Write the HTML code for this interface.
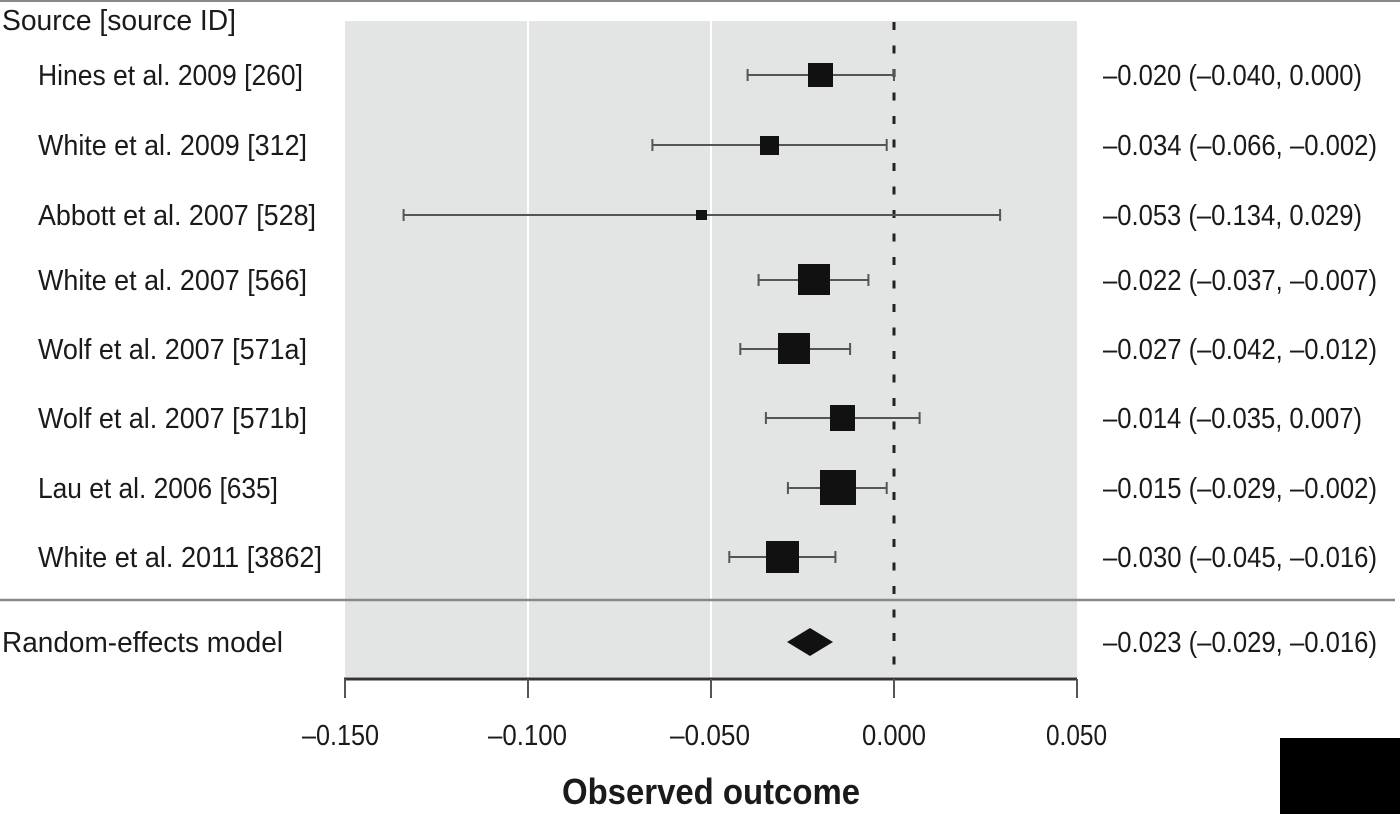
<!DOCTYPE html>
<html><head><meta charset="utf-8"><style>
html,body{margin:0;padding:0;background:#fff;width:1400px;height:814px;overflow:hidden}
text{font-family:"Liberation Sans Narrow","Liberation Sans",sans-serif;fill:#1a1a1a}
</style></head><body>
<svg width="1400" height="814" viewBox="0 0 1400 814" xmlns="http://www.w3.org/2000/svg">
<rect x="345" y="21" width="732" height="656" fill="#e3e4e4"/>
<line x1="528" y1="21" x2="528" y2="677" stroke="#fff" stroke-width="2"/>
<line x1="711" y1="21" x2="711" y2="677" stroke="#fff" stroke-width="2"/>
<line x1="0" y1="1" x2="1400" y2="1" stroke="#888" stroke-width="2"/>
<line x1="0" y1="600" x2="1395" y2="600" stroke="#888" stroke-width="2.5"/>
<line x1="894" y1="22" x2="894" y2="677" stroke="#222" stroke-width="3" stroke-dasharray="8 15.5"/>
<g stroke="#555" stroke-width="2" fill="none">
<path d="M747.6 75H894M747.6 69v12M894 69v12"/>
<path d="M652.4 145H886.7M652.4 139v12M886.7 139v12"/>
<path d="M403.6 215H1000.1M403.6 209v12M1000.1 209v12"/>
<path d="M758.6 280H868.4M758.6 274v12M868.4 274v12"/>
<path d="M740.3 349H850.1M740.3 343v12M850.1 343v12"/>
<path d="M765.9 418H919.6M765.9 412v12M919.6 412v12"/>
<path d="M787.9 488H886.7M787.9 482v12M886.7 482v12"/>
<path d="M729.3 557H835.4M729.3 551v12M835.4 551v12"/>
</g>
<g fill="#111">
<rect x="808" y="63" width="25" height="24"/>
<rect x="760" y="136" width="19" height="19"/>
<rect x="696" y="210" width="11" height="10"/>
<rect x="798" y="264" width="32" height="31"/>
<rect x="778" y="333" width="32" height="31"/>
<rect x="830" y="405" width="25" height="26"/>
<rect x="820" y="470" width="36" height="35"/>
<rect x="766" y="541" width="33" height="32"/>
<polygon points="787,642 810,628 833,642 810,656"/>
</g>
<line x1="344" y1="679" x2="1077" y2="679" stroke="#333" stroke-width="3"/>
<g stroke="#555" stroke-width="2"><path d="M345 679v19M528 679v19M711 679v19M894 679v19M1077 679v19"/></g>
<g font-size="29" lengthAdjust="spacingAndGlyphs">
<text x="302" y="745" textLength="77" lengthAdjust="spacingAndGlyphs">–0.150</text>
<text x="488" y="745" textLength="79" lengthAdjust="spacingAndGlyphs">–0.100</text>
<text x="670" y="745" textLength="80" lengthAdjust="spacingAndGlyphs">–0.050</text>
<text x="862" y="745" textLength="64" lengthAdjust="spacingAndGlyphs">0.000</text>
<text x="1046" y="745" textLength="61" lengthAdjust="spacingAndGlyphs">0.050</text>
</g>
<text x="562" y="804" font-size="36" font-weight="bold" textLength="298" lengthAdjust="spacingAndGlyphs">Observed outcome</text>
<g font-size="29">
<text x="2" y="30" textLength="234" lengthAdjust="spacingAndGlyphs">Source [source ID]</text>
<text x="38" y="85" textLength="265" lengthAdjust="spacingAndGlyphs">Hines et al. 2009 [260]</text>
<text x="38" y="155" textLength="269" lengthAdjust="spacingAndGlyphs">White et al. 2009 [312]</text>
<text x="38" y="225" textLength="278" lengthAdjust="spacingAndGlyphs">Abbott et al. 2007 [528]</text>
<text x="38" y="290" textLength="269" lengthAdjust="spacingAndGlyphs">White et al. 2007 [566]</text>
<text x="38" y="359" textLength="269" lengthAdjust="spacingAndGlyphs">Wolf et al. 2007 [571a]</text>
<text x="38" y="428" textLength="269" lengthAdjust="spacingAndGlyphs">Wolf et al. 2007 [571b]</text>
<text x="38" y="498" textLength="240" lengthAdjust="spacingAndGlyphs">Lau et al. 2006 [635]</text>
<text x="38" y="567" textLength="284" lengthAdjust="spacingAndGlyphs">White et al. 2011 [3862]</text>
<text x="2" y="652" textLength="281" lengthAdjust="spacingAndGlyphs">Random-effects model</text>
<text x="1103" y="85" textLength="259" lengthAdjust="spacingAndGlyphs">–0.020 (–0.040, 0.000)</text>
<text x="1103" y="155" textLength="274" lengthAdjust="spacingAndGlyphs">–0.034 (–0.066, –0.002)</text>
<text x="1103" y="225" textLength="259" lengthAdjust="spacingAndGlyphs">–0.053 (–0.134, 0.029)</text>
<text x="1103" y="290" textLength="274" lengthAdjust="spacingAndGlyphs">–0.022 (–0.037, –0.007)</text>
<text x="1103" y="359" textLength="274" lengthAdjust="spacingAndGlyphs">–0.027 (–0.042, –0.012)</text>
<text x="1103" y="428" textLength="259" lengthAdjust="spacingAndGlyphs">–0.014 (–0.035, 0.007)</text>
<text x="1103" y="498" textLength="274" lengthAdjust="spacingAndGlyphs">–0.015 (–0.029, –0.002)</text>
<text x="1103" y="567" textLength="274" lengthAdjust="spacingAndGlyphs">–0.030 (–0.045, –0.016)</text>
<text x="1103" y="652" textLength="274" lengthAdjust="spacingAndGlyphs">–0.023 (–0.029, –0.016)</text>
</g>
<rect x="1280" y="738" width="120" height="76" fill="#000"/>
</svg>
</body></html>
